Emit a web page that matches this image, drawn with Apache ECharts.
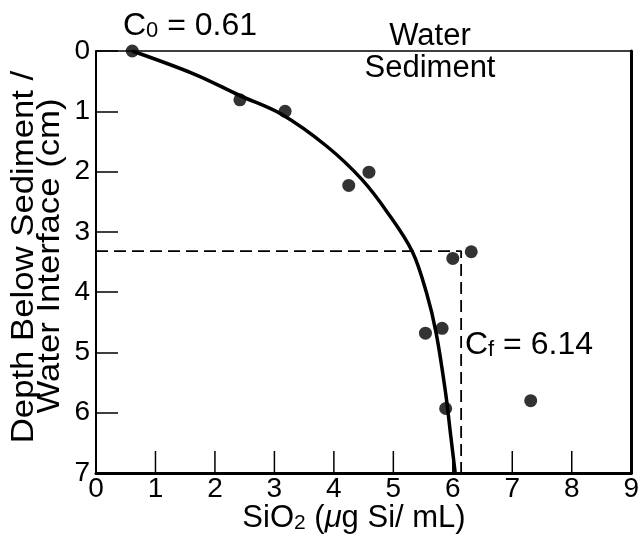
<!DOCTYPE html>
<html>
<head>
<meta charset="utf-8">
<script src="https://cdn.jsdelivr.net/npm/echarts@6/dist/echarts.min.js"></script>
<style>
  html, body { margin: 0; padding: 0; background: #fff; }
  #chart { width: 642px; height: 538px; }
</style>
</head>
<body>
<div id="chart"></div>
<script>
// measured points: SiO2 (ug Si/mL) vs depth (cm)
var pointSiO2  = [0.61, 2.42, 3.18, 4.25, 4.59, 6.00, 6.31, 5.54, 5.82, 5.88, 7.31];
var pointDepth = [0.00, 0.81, 1.00, 2.23, 2.01, 3.44, 3.33, 4.68, 4.60, 5.93, 5.80];

// fitted curve
var curveSiO2  = [0.61, 1.67, 2.42, 3.12, 3.88, 4.47, 4.91, 5.32, 5.56, 5.72, 5.88, 5.96, 6.04];
var curveDepth = [0.00, 0.39, 0.74, 1.05, 1.58, 2.13, 2.69, 3.33, 4.02, 4.68, 5.68, 6.34, 7.00];

// C_f guide line
var guideSiO2  = [0, 6.14, 6.14];
var guideDepth = [3.32, 3.32, 7];

var xTicks = [0, 9, 1];   // min, max, step
var yTicks = [0, 7, 1];   // depth, drawn downward
var xTickMarks = [1, 2, 3, 4, 5, 6, 7, 8];   // inner ticks on the bottom edge

// depth goes down the page: plot it as -depth, label it positive
function pairs(xs, ys) {
    return xs.map(function (x, i) { return [x, -ys[i]]; });
}

var font = '"Liberation Sans", Arial, Helvetica, sans-serif';
var myChart = echarts.init(document.getElementById('chart'));

myChart.setOption({
    animation: false,
    backgroundColor: '#fff',
    textStyle: {fontFamily: font, color: '#000'},
    grid: {left: 96, right: 9, top: 51, bottom: 65},
    xAxis: [
        {
            type: 'value', min: xTicks[0], max: xTicks[1], interval: xTicks[2],
            position: 'bottom',
            axisLine: {onZero: false, lineStyle: {color: '#000', width: 3}},
            axisTick: {show: false},
            axisLabel: {fontSize: 28, color: '#000', margin: 2, fontFamily: font},
            splitLine: {show: false}
        },
        {
            type: 'value', min: xTicks[0], max: xTicks[1], position: 'top',
            axisLine: {onZero: false, lineStyle: {color: '#000', width: 1.5}},
            axisTick: {show: false}, axisLabel: {show: false}, splitLine: {show: false}
        }
    ],
    yAxis: [
        {
            type: 'value', min: -yTicks[1], max: yTicks[0], interval: yTicks[2],
            position: 'left',
            axisLine: {onZero: false, lineStyle: {color: '#000', width: 2}},
            axisTick: {inside: true, length: 22, lineStyle: {color: '#000', width: 1.5}},
            axisLabel: {
                fontSize: 28, color: '#000', margin: 6, fontFamily: font,
                formatter: function (v) { return String(Math.abs(v)); }
            },
            splitLine: {show: false}
        },
        {
            type: 'value', min: -yTicks[1], max: yTicks[0], position: 'right',
            axisLine: {onZero: false, lineStyle: {color: '#000', width: 3}},
            axisTick: {show: false}, axisLabel: {show: false}, splitLine: {show: false}
        }
    ],
    series: [
        {
            // bottom-edge ticks, drawn from the axis scale
            name: 'xticks', type: 'custom', silent: true, clip: false,
            data: xTickMarks.map(function (v) { return [v, -yTicks[1]]; }),
            renderItem: function (params, api) {
                var p = api.coord([api.value(0), api.value(1)]);
                return {
                    type: 'line',
                    shape: {x1: p[0], y1: p[1], x2: p[0], y2: p[1] - 22},
                    style: {stroke: '#000', lineWidth: 1.5}
                };
            }
        },
        {
            name: 'guide', type: 'line', data: pairs(guideSiO2, guideDepth),
            showSymbol: false, silent: true,
            lineStyle: {color: '#000', width: 1.8, type: [12, 6]}
        },
        {
            name: 'fit', type: 'line', data: pairs(curveSiO2, curveDepth),
            smooth: 0.35, showSymbol: false, silent: true,
            lineStyle: {color: '#000', width: 3.5}
        },
        {
            name: 'measured', type: 'scatter', data: pairs(pointSiO2, pointDepth),
            symbolSize: 13, itemStyle: {color: '#000'}
        }
    ],
    graphic: [
        {
            type: 'text', left: 123, top: 10,
            style: {
                text: '{a|C}{s|0}{a| = 0.61}',
                rich: {
                    a: {fontSize: 32, fontFamily: font, fill: '#000', lineHeight: 33, verticalAlign: 'bottom'},
                    s: {fontSize: 22, fontFamily: font, fill: '#000', lineHeight: 22, verticalAlign: 'bottom'}
                }
            }
        },
        {
            type: 'text', x: 430, y: 36,
            style: {text: 'Water', font: '31px ' + font, fill: '#000', textAlign: 'center', textVerticalAlign: 'middle'}
        },
        {
            type: 'text', x: 430, y: 68,
            style: {text: 'Sediment', font: '31px ' + font, fill: '#000', textAlign: 'center', textVerticalAlign: 'middle'}
        },
        {
            type: 'text', left: 465, top: 329,
            style: {
                text: '{a|C}{s|f}{a| = 6.14}',
                rich: {
                    a: {fontSize: 32, fontFamily: font, fill: '#000', lineHeight: 33, verticalAlign: 'bottom'},
                    s: {fontSize: 22, fontFamily: font, fill: '#000', lineHeight: 22, verticalAlign: 'bottom'}
                }
            }
        },
        {
            type: 'text', x: 354, y: 534,
            style: {
                text: '{a|SiO}{s|2}{a| (}{m|μ}{a|g Si/ mL)}',
                textAlign: 'center', textVerticalAlign: 'bottom',
                rich: {
                    a: {fontSize: 31, fontFamily: font, fill: '#000', lineHeight: 32, verticalAlign: 'bottom'},
                    s: {fontSize: 21, fontFamily: font, fill: '#000', lineHeight: 21, verticalAlign: 'bottom'},
                    m: {fontSize: 31, fontFamily: font, fontStyle: 'italic', fill: '#000', lineHeight: 32, verticalAlign: 'bottom'}
                }
            }
        },
        {
            type: 'text', x: 24, y: 257, rotation: Math.PI / 2, scaleX: 1.12,
            style: {text: 'Depth Below Sediment /', font: '31px ' + font, fill: '#000', textAlign: 'center', textVerticalAlign: 'middle'}
        },
        {
            type: 'text', x: 50, y: 256, rotation: Math.PI / 2, scaleX: 1.12,
            style: {text: 'Water Interface (cm)', font: '31px ' + font, fill: '#000', textAlign: 'center', textVerticalAlign: 'middle'}
        }
    ]
});
</script>
</body>
</html>
